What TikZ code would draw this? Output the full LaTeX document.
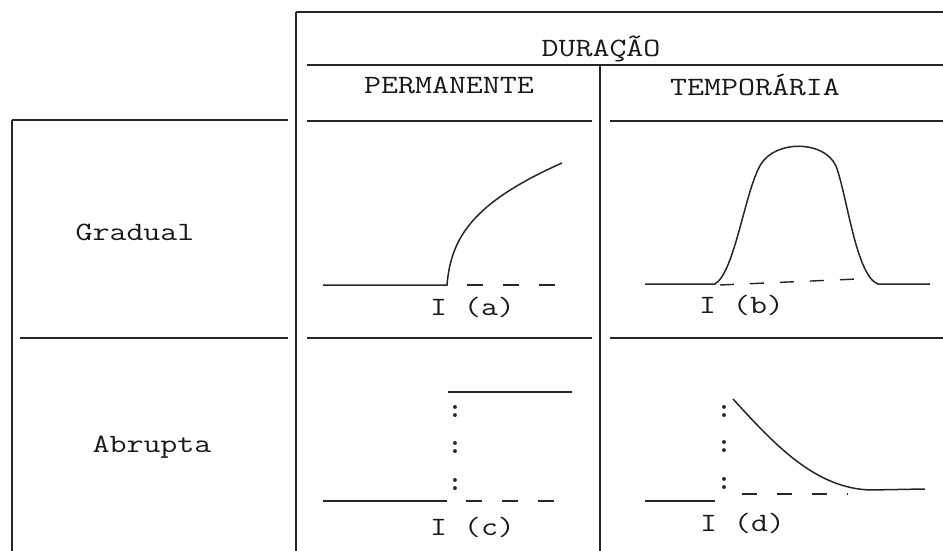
\documentclass[tikz,border=0pt]{standalone}
\usepackage{graphicx}
\newcommand{\squash}[1]{\scalebox{1}[0.8]{#1}}
\begin{document}
\begin{tikzpicture}[x=1pt,y=-1pt,
  rule/.style={line width=1.6pt,color=black!85},
  curve/.style={line width=1.5pt,color=black!85},
  dashline/.style={line width=1.4pt,color=black!85,dash pattern=on 16pt off 20pt},
  lbl/.style={inner sep=0pt,font=\ttfamily\fontsize{33}{35}\selectfont,text=black!90},
  dots/.style={inner sep=0pt,font=\rmfamily\bfseries\fontsize{27}{29}\selectfont,text=black!85}]
\useasboundingbox (0,0) rectangle (943,551);
% table rules
\draw[rule] (296,12) -- (943,12);
\draw[rule] (296,12) -- (296,551);
\draw[rule] (307,65) -- (943,65);
\draw[rule] (600,65) -- (600,551);
\draw[rule] (307,121) -- (592,121);
\draw[rule] (610,121) -- (943,121);
\draw[rule] (12,120) -- (288,120);
\draw[rule] (12,120) -- (12,551);
\draw[rule] (20,338) -- (288,338);
\draw[rule] (307,338) -- (592,338);
\draw[rule] (610,338) -- (943,338);
% headings
\node[lbl] (dur) at (601,49) {\squash{DURAÇÃO}};
\node[lbl] (perm) at (449,85) {\squash{PERMANENTE}};
\node[lbl] (temp) at (755,85) {\squash{TEMPORÁRIA}};
\node[lbl] (grad) at (135,232) {\squash{Gradual}};
\node[lbl] (abr) at (152,447) {\squash{Abrupta}};
% panel (a)
\draw[curve] (323,285) -- (447,285) .. controls (451,238) and (472,203) .. (562,163);
\draw[dashline] (467,285) -- (556,285);
\node[lbl] (la) at (472.5,307) {\squash{I (a)}};
% panel (b)
\draw[curve] (645,284) -- (715,284) .. controls (735,272) and (745,190) .. (761,164)
  .. controls (776,140) and (824,140) .. (836,166)
  .. controls (847,195) and (856,276) .. (878,284) -- (930,284);
\draw[dashline,dash pattern=on 14pt off 16pt] (720,285) -- (857,279);
\node[lbl] (lb) at (741.5,305) {\squash{I (b)}};
% panel (c)
\draw[curve] (448,392) -- (572,392);
\draw[curve] (323,501) -- (447,501);
\draw[dashline] (466,501) -- (555,501);
\node[dots] (c1) at (455,412) {:};
\node[dots] (c2) at (455,448) {:};
\node[dots] (c3) at (455,485) {:};
\node[lbl] (lc) at (472.5,527) {\squash{I (c)}};
% panel (d)
\draw[curve] (645,501) -- (715,501);
\draw[curve] (733,399) .. controls (775,445) and (815,488) .. (870,490) -- (925,489);
\draw[dashline,dash pattern=on 15pt off 20pt] (742,494) -- (848,494);
\node[dots] (d1) at (724,412) {:};
\node[dots] (d2) at (724,447) {:};
\node[dots] (d3) at (724,484) {:};
\node[lbl] (ld) at (742.5,523) {\squash{I (d)}};
\end{tikzpicture}
\end{document}
